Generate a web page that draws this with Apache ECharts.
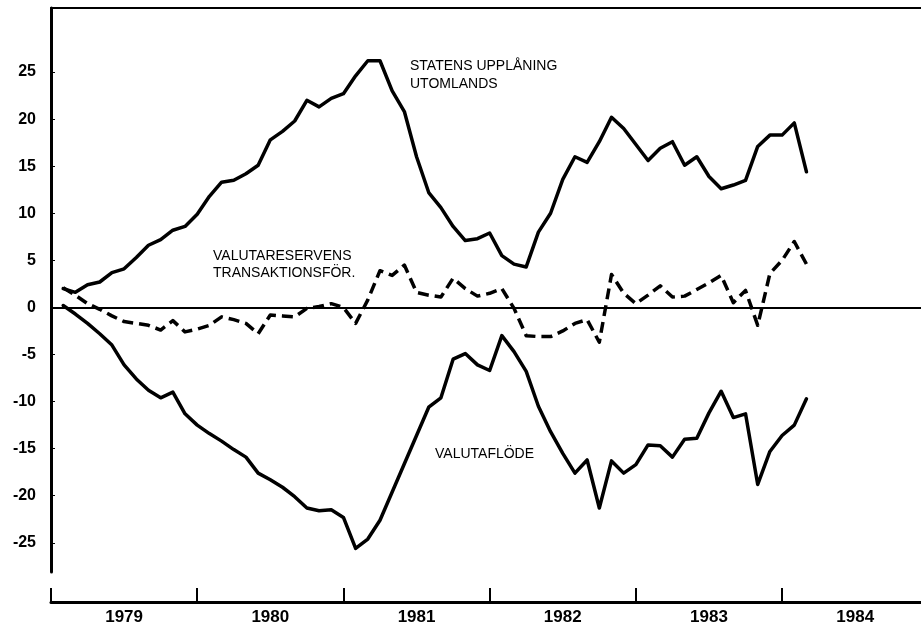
<!DOCTYPE html>
<html>
<head>
<meta charset="utf-8">
<script src="https://cdn.jsdelivr.net/npm/echarts@6/dist/echarts.min.js"></script>
<style>
html, body { margin: 0; padding: 0; background: #fff; }
#chart { width: 921px; height: 628px; }
</style>
</head>
<body>
<div id="chart"></div>
<script>
// year labels on the time axis, value ticks on the left axis
const years = ['1979', '1980', '1981', '1982', '1983', '1984']
const yTicks = [-25, -20, -15, -10, -5, 0, 5, 10, 15, 20, 25]

// monthly values, Jan 1979 .. Feb 1984 (billion kr)
const statensUpplaning = [
  2.0, 1.6, 2.4, 2.7, 3.7, 4.1, 5.3, 6.6, 7.2, 8.2, 8.6, 9.9,
  11.8, 13.3, 13.5, 14.2, 15.1, 17.8, 18.7, 19.8, 22.0, 21.3, 22.2, 22.7,
  24.6, 26.2, 26.2, 23.0, 20.8, 16.0, 12.2, 10.6, 8.6, 7.1, 7.3, 7.9,
  5.5, 4.6, 4.3, 8.0, 10.0, 13.6, 16.0, 15.4, 17.6, 20.2, 19.0, 17.3,
  15.6, 16.9, 17.6, 15.1, 16.0, 13.9, 12.6, 13.0, 13.5, 17.1, 18.3, 18.3,
  19.6, 14.4
]
const valutareserven = [
  2.1, 1.3, 0.4, -0.2, -0.9, -1.5, -1.7, -1.9, -2.4, -1.4, -2.6, -2.3,
  -1.9, -1.0, -1.3, -1.7, -2.8, -0.8, -0.9, -1.0, -0.1, 0.1, 0.4, 0.0,
  -1.7, 0.8, 3.9, 3.4, 4.5, 1.6, 1.3, 1.1, 3.1, 2.0, 1.2, 1.5,
  2.0, -0.1, -3.0, -3.1, -3.1, -2.5, -1.7, -1.3, -3.7, 3.5, 1.5, 0.4,
  1.3, 2.3, 1.1, 1.2, 1.9, 2.6, 3.4, 0.5, 1.8, -1.9, 3.6, 5.0,
  7.0, 4.6
]
const valutaflode = [
  0.2, -0.7, -1.7, -2.8, -4.0, -6.1, -7.6, -8.8, -9.6, -9.0, -11.3, -12.5,
  -13.4, -14.2, -15.1, -15.9, -17.6, -18.3, -19.1, -20.1, -21.3, -21.6, -21.5, -22.3,
  -25.6, -24.6, -22.6, -19.6, -16.6, -13.6, -10.6, -9.6, -5.5, -4.9, -6.1, -6.7,
  -3.0, -4.7, -6.8, -10.5, -13.2, -15.5, -17.6, -16.2, -21.3, -16.3, -17.6, -16.7,
  -14.6, -14.7, -15.9, -14.0, -13.9, -11.2, -8.9, -11.7, -11.3, -18.8, -15.3, -13.6,
  -12.5, -9.7
]

// month labels, each value is plotted at the end of its month
let months = []
for (let y = 1979; y <= 1984; y++) {
  for (let m = 1; m <= 12; m++) {
    months.push(y + '-' + (m < 10 ? '0' + m : m))
  }
}
months = months.slice(0, statensUpplaning.length)

function toPoints (values) {
  return values.map((v, i) => [i + 1, v])
}

const xMax = 71.4
const fontNum = 'Liberation Sans, Arial, sans-serif'
const fontNote = 'Liberation Sans, Arial, sans-serif'

let myChart = echarts.init(document.getElementById('chart'))
let option = {
  animation: false,
  backgroundColor: '#fff',
  grid: {
    left: 51,
    right: 0,
    top: 8,
    bottom: 56,
    outerBoundsMode: 'none'
  },
  xAxis: [
    {
      type: 'value',
      position: 'bottom',
      offset: 30,
      min: 0,
      max: xMax,
      splitLine: { show: false },
      axisLine: { show: true, onZero: false, lineStyle: { color: '#000', width: 3 } },
      axisTick: {
        show: true,
        inside: true,
        length: 14,
        customValues: [0, 12, 24, 36, 48, 60],
        lineStyle: { color: '#000', width: 2 }
      },
      axisLabel: {
        customValues: [6, 18, 30, 42, 54, 66],
        formatter: function (v) { return years[Math.floor(v / 12)] },
        color: '#000',
        fontFamily: fontNum,
        fontWeight: 'bold',
        fontSize: 17,
        margin: 7
      }
    },
    {
      type: 'value',
      position: 'top',
      min: 0,
      max: xMax,
      splitLine: { show: false },
      axisLine: { show: true, onZero: false, lineStyle: { color: '#000', width: 2 } },
      axisTick: { show: false },
      axisLabel: { show: false }
    }
  ],
  yAxis: {
    type: 'value',
    min: -28.1,
    max: 31.8,
    splitLine: { show: false },
    axisLine: { show: true, onZero: false, lineStyle: { color: '#000', width: 3 } },
    axisTick: {
      show: true,
      inside: true,
      length: 4,
      customValues: yTicks,
      lineStyle: { color: '#000', width: 1 }
    },
    axisLabel: {
      customValues: yTicks,
      color: '#000',
      fontFamily: fontNum,
      fontWeight: 'bold',
      fontSize: 16,
      margin: 15
    }
  },
  series: [
    {
      name: 'Statens upplåning utomlands',
      type: 'line',
      xAxisIndex: 0,
      symbol: 'none',
      data: toPoints(statensUpplaning),
      lineStyle: { color: '#000', width: 3.5, join: 'round', cap: 'round' },
      markLine: {
        silent: true,
        symbol: ['none', 'none'],
        label: { show: false },
        lineStyle: { color: '#000', width: 1.8, type: 'solid' },
        data: [{ yAxis: 0 }]
      }
    },
    {
      name: 'Valutareservens transaktionsför.',
      type: 'line',
      xAxisIndex: 0,
      symbol: 'none',
      data: toPoints(valutareserven),
      lineStyle: { color: '#000', width: 3.5, type: [11, 6], join: 'round' }
    },
    {
      name: 'Valutaflöde',
      type: 'line',
      xAxisIndex: 0,
      symbol: 'none',
      data: toPoints(valutaflode),
      lineStyle: { color: '#000', width: 3.5, join: 'round', cap: 'round' }
    }
  ],
  graphic: [
    {
      type: 'text',
      left: 410,
      top: 57,
      style: {
        text: 'STATENS UPPLÅNING\nUTOMLANDS',
        font: '14px ' + fontNote,
        fill: '#000',
        lineHeight: 18
      }
    },
    {
      type: 'text',
      left: 213,
      top: 248,
      style: {
        text: 'VALUTARESERVENS\nTRANSAKTIONSFÖR.',
        font: '14px ' + fontNote,
        fill: '#000',
        lineHeight: 17
      }
    },
    {
      type: 'text',
      left: 435,
      top: 447,
      style: {
        text: 'VALUTAFLÖDE',
        font: '14px ' + fontNote,
        fill: '#000'
      }
    }
  ]
}
myChart.setOption(option)
</script>
</body>
</html>
